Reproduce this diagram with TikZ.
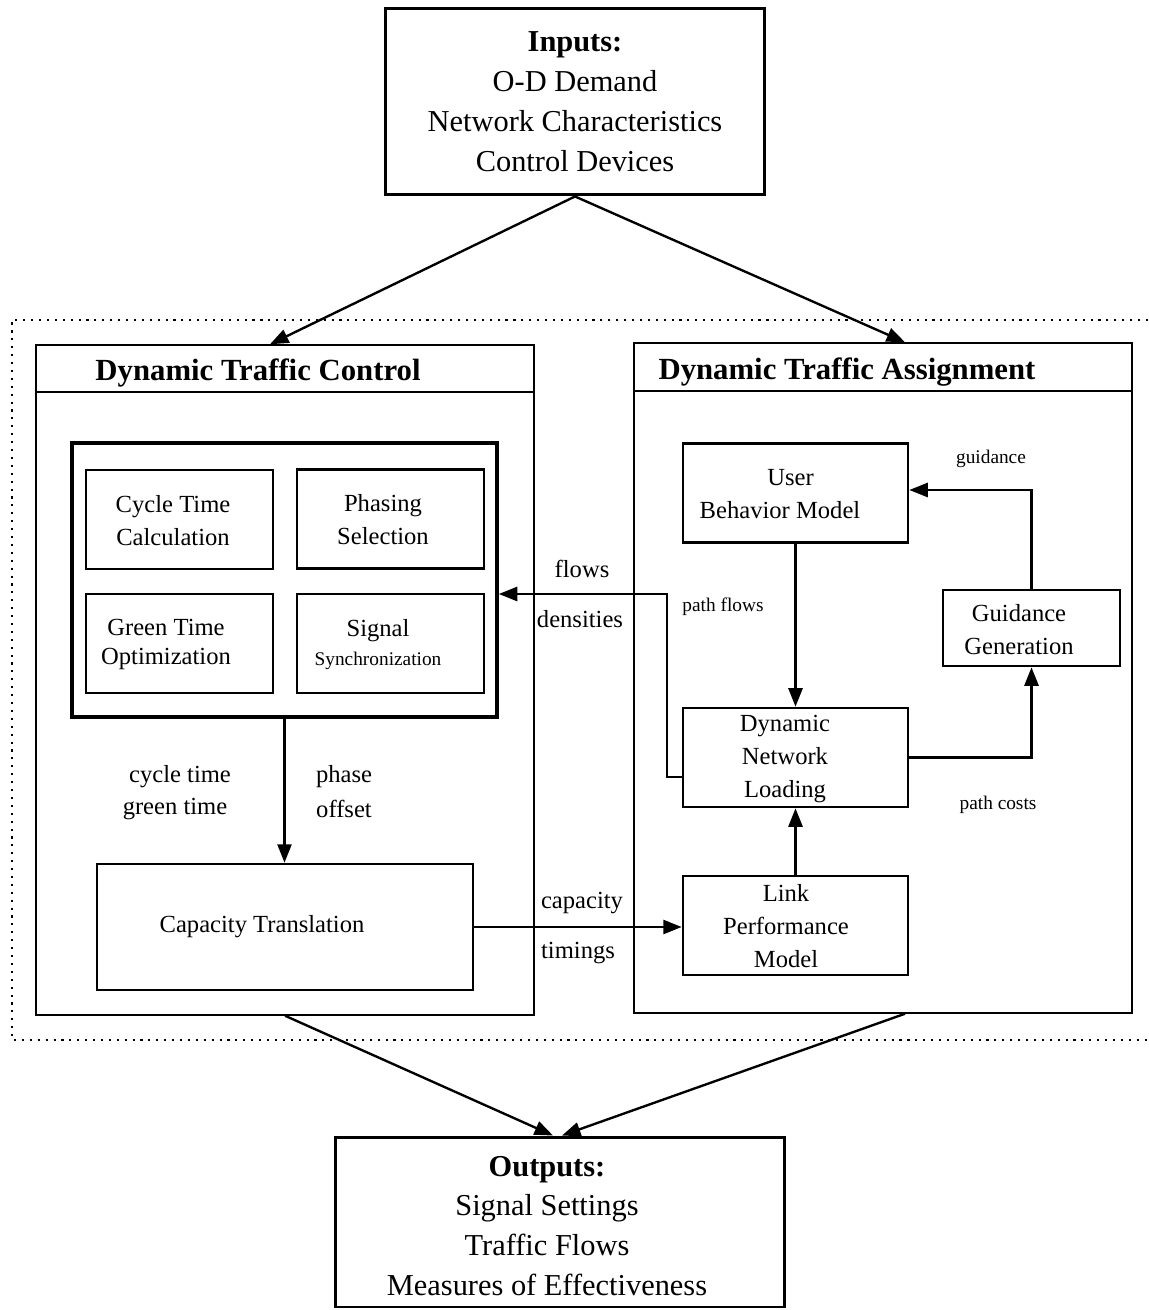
\documentclass[tikz,border=0pt]{standalone}
\usepackage{fontspec}
\setmainfont{Liberation Serif}
\usetikzlibrary{arrows.meta,calc}
\tikzset{
  bigfont/.style={font=\fontsize{17.3}{22.7}\selectfont},
  titlefont/.style={font=\fontsize{17.5}{22}\selectfont\bfseries},
  midfont/.style={font=\fontsize{14}{18.7}\selectfont},
  tightfont/.style={font=\fontsize{14}{16.5}\selectfont},
  smallfont/.style={font=\fontsize{11}{14}\selectfont},
  box/.style={draw, line width=1.5pt, inner sep=0pt, fill=white},
  ioframe/.style={box, line width=1.7pt},
  panel/.style={draw, line width=0.9pt, inner sep=0pt},
  block/.style={draw, line width=2.1pt, inner sep=0pt},
  subbox/.style={box, line width=1.2pt, minimum width=3.74cm, minimum height=1.98cm},
  modelbox/.style={box, minimum width=4.5cm, minimum height=1.98cm},
  lbl/.style={inner sep=0pt, align=center},
  arr/.style={-{Triangle[length=10.5pt,width=8pt]}, line width=1.35pt},
  dotframe/.style={line width=1.2pt, dash pattern=on 1.2pt off 3.3pt},
}
\begin{document}
\begin{tikzpicture}[x=0.02cm, y=-0.02cm]
\useasboundingbox[fill=white] (0,0) rectangle (1148,1310);

% outer dotted frame around the two modules
\draw[dotframe] (1148,320) -- (12,320) -- (12,1040) -- (1148,1040);

% inputs and outputs
\node[ioframe, minimum width=7.6cm, minimum height=3.74cm] (inputs) at (575,101.5) {};
\node[lbl, bigfont] (inputstext) at (575,102)
  {\textbf{Inputs:}\\O-D Demand\\Network Characteristics\\Control Devices};
\node[ioframe, minimum width=9cm, minimum height=3.4cm] (outputs) at (560,1222) {};
\node[lbl, bigfont] (outputstext) at (547,1226)
  {\textbf{Outputs:}\\Signal Settings\\Traffic Flows\\Measures of Effectiveness};

% control module
\node[panel, minimum width=9.96cm, minimum height=13.4cm] (dtc) at (285,680) {};
\draw[line width=0.9pt] (dtc.north west) ++(0,48) -- ++(498,0);
\node[lbl, titlefont] (dtctitle) at (258,373) {Dynamic Traffic Control};

\node[block, minimum width=8.5cm, minimum height=5.48cm] (inner) at (284.5,580) {};
\node[subbox] (ct) at (179.5,519.5) {};
\node[lbl, midfont] (cttext) at (173,520.5) {Cycle Time\\Calculation};
\node[subbox] (ps) at (390.5,519) {};
\node[lbl, midfont] (pstext) at (383,520) {Phasing\\Selection};
\node[subbox] (gt) at (179.5,643.5) {};
\node[lbl, tightfont] (gttext) at (166,644.5) {Green Time\\Optimization};
\node[subbox] (ss) at (390.5,643.5) {};
\node[lbl, tightfont] (sstext) at (378,645) {Signal\\{\fontsize{11}{14}\selectfont Synchronization}};

\node[box, minimum width=7.52cm, minimum height=2.52cm] (cap) at (285,927) {};
\node[lbl, midfont] (captext) at (262,927) {Capacity Translation};

% assignment module
\node[panel, minimum width=9.96cm, minimum height=13.4cm] (dta) at (883,678) {};
\draw[line width=0.9pt] (dta.north west) ++(0,49) -- ++(498,0);
\node[lbl, titlefont] (dtatitle) at (847,372) {Dynamic Traffic Assignment};

\node[modelbox] (ubm) at (795.5,493) {};
\node[lbl, midfont] (ubmtext) at (780,494) {\hspace*{12pt}User\\Behavior Model};
\node[modelbox] (dnl) at (795.5,757.5) {};
\node[lbl, midfont] (dnltext) at (785,759) {Dynamic\\Network\\Loading};
\node[modelbox] (lpm) at (795.5,925.5) {};
\node[lbl, midfont] (lpmtext) at (786,926) {Link\\Performance\\Model};
\node[box, minimum width=3.54cm, minimum height=1.52cm] (gg) at (1031.5,628) {};
\node[lbl, midfont] (ggtext) at (1019,629.5) {Guidance\\Generation};

% connectors
\draw[arr] (inputs.south) -- ([xshift=-0.3cm]dtc.north);
\draw[arr] (inputs.south) -- ([xshift=0.44cm]dta.north);
\draw[arr] (dtc.south) -- ([xshift=-0.14cm]outputs.north);
\draw[arr] ([xshift=0.44cm]dta.south) -- ([xshift=0.04cm]outputs.north);

\draw[arr] (inner.south) -- (inner.south |- cap.north);
\draw[arr] (cap.east) -- (cap.east -| lpm.west);
\draw[arr] (ubm) -- (dnl);
\draw[arr] (lpm) -- (dnl);
\draw[arr] (dnl.east) -| (gg.south);
\draw[arr] (gg.north) |- ([yshift=0.06cm]ubm.east);
\draw[arr] ([yshift=-0.39cm]dnl.west) -- ++(-15,0) |- ([yshift=-0.28cm]inner.east);

% connector labels
\node[lbl, midfont] (lct) at (180,777) {cycle time};
\node[lbl, midfont] (lgt) at (175,809) {green time};
\node[lbl, midfont] (lph) at (344,777) {phase};
\node[lbl, midfont] (lof) at (344,809) {offset};
\node[lbl, midfont] (lfl) at (582,569) {flows};
\node[lbl, midfont] (lde) at (580,619) {densities};
\node[lbl, midfont] (lca) at (582,903) {capacity};
\node[lbl, midfont] (lti) at (578,953) {timings};
\node[lbl, smallfont] (lpf) at (723,607) {path flows};
\node[lbl, smallfont] (lgu) at (991,459) {guidance};
\node[lbl, smallfont] (lpc) at (998,805) {path costs};
\end{tikzpicture}
\end{document}
